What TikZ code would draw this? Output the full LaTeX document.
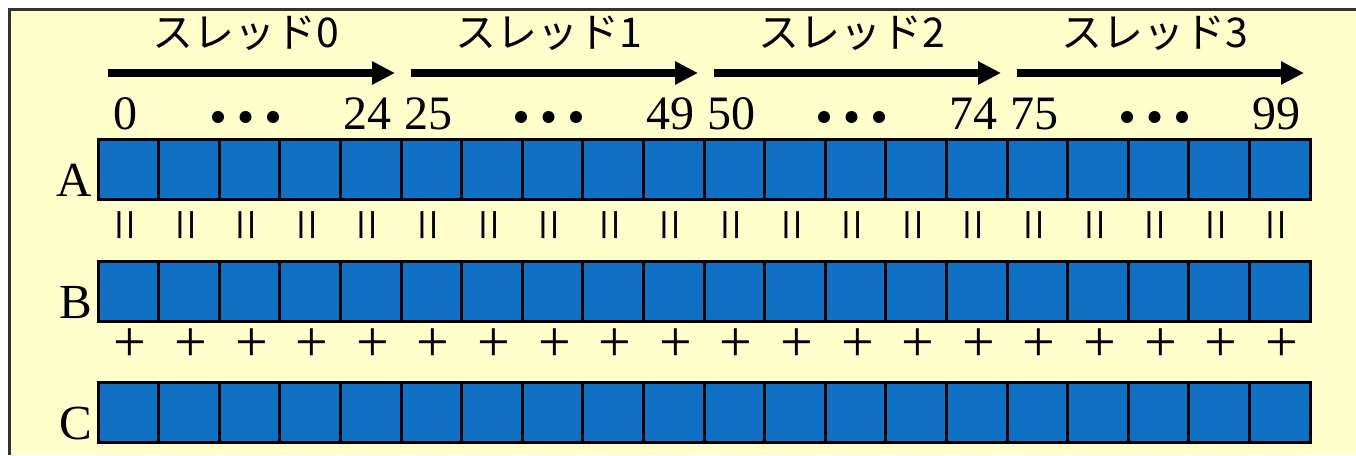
\documentclass[tikz,border=0pt]{standalone}
\usepackage{fontspec}
\setmainfont{Liberation Serif}
\newfontfamily\jpfont{Noto Sans CJK JP}
\usepackage{tikz}
\usetikzlibrary{arrows.meta,positioning}
\definecolor{vecblue}{HTML}{1070C4}
\definecolor{vecbg}{HTML}{FFFFCC}
\definecolor{vecframe}{HTML}{333333}

\begin{document}
\begin{tikzpicture}[x=1pt, y=1pt,
  cell/.style={rectangle, draw=black, line width=3pt, fill=vecblue,
               minimum width=60.6pt, minimum height=60pt, inner sep=0pt, outer sep=0pt},
  rowlbl/.style={font=\fontsize{49}{49}\selectfont, anchor=base east, inner sep=0pt},
  idx/.style={font=\fontsize{48}{48}\selectfont, anchor=base, inner sep=0pt},
  op/.style={font=\fontsize{58}{58}\selectfont, inner sep=0pt},
  thr/.style={font=\jpfont\fontsize{41}{41}\selectfont, inner sep=0pt},
  thrarr/.style={-{Triangle[length=23pt,width=22pt]}, line width=8pt},
]
  \useasboundingbox (0,0) rectangle (1356,455);
  \fill[white] (0,0) rectangle (1356,455);
  \fill[vecbg] (9.5,0) rectangle (1356,445.5);
  \draw[vecframe, line width=3pt] (9.5,0) -- (9.5,445.5) -- (1356,445.5);

  % arrays A, B, C
  \foreach \i in {0,...,19} {
    \node[cell] (a\i) at ({128.3+60.6*\i},285) {};
    \node[cell] (b\i) at ({128.3+60.6*\i},163.5) {};
    \node[cell] (c\i) at ({128.3+60.6*\i},42.5) {};
    \node[op, rotate=90] (eq\i) at ([xshift=3pt,yshift=-55pt]a\i.center) {=};
    \node[op] (plus\i) at ([xshift=2pt,yshift=-53.5pt]b\i.center) {+};
  }
  \node[rowlbl] (lblA) at ([xshift=-6pt,yshift=3pt]a0.south west) {A};
  \node[rowlbl] (lblB) at ([xshift=-6pt,yshift=3pt]b0.south west) {B};
  \node[rowlbl] (lblC) at ([xshift=-6pt,yshift=3pt]c0.south west) {C};

  % threads
  \foreach \t/\lo/\hi in {0/0/24,1/25/49,2/50/74,3/75/99} {
    \coordinate (ts\t) at ({108+303*\t},382);
    \coordinate (te\t) at ({395+303*\t},382);
    \draw[thrarr] (ts\t) -- (te\t);
    \node[thr] (thr\t) at ({246+303*\t},422) {スレッド\t};
    \node[idx] (lo\t) at ({125+303*\t},325) {\lo};
    \node[idx] (hi\t) at ({367+303*\t},325) {\hi};
    \foreach \d in {-1,0,1}
      \fill ({245.5+303*\t+27.5*\d},338) circle (6);
  }
\end{tikzpicture}
\end{document}
